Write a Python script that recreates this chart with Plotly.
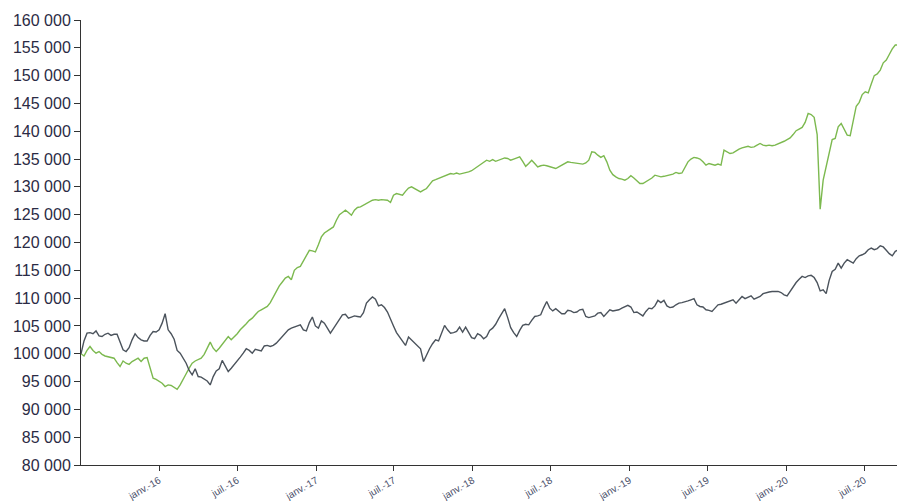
import pandas as pd
import plotly.graph_objects as go

# Weekly observation dates (Fridays)
start_date = "2015-07-03"
n_points = 273

# Green series (thousands)
green_k = [
    100.0, 99.6, 100.6, 101.3, 100.6, 100.1, 100.4, 99.9, 99.6, 99.5,
    99.4, 99.2, 98.4, 97.7, 98.7, 98.3, 98.1, 98.6, 98.9, 99.2,
    98.6, 99.2, 99.3, 97.3, 95.6, 95.4, 95.0, 94.7, 94.1, 94.4,
    94.3, 94.0, 93.6, 94.4, 95.3, 96.4, 97.4, 98.3, 98.7, 98.9,
    99.2, 99.9, 101.0, 102.1, 101.0, 100.4, 101.0, 101.7, 102.3, 103.1,
    102.5, 103.0, 103.6, 104.3, 104.8, 105.4, 106.0, 106.4, 107.0, 107.6,
    107.9, 108.2, 108.5, 109.2, 110.3, 111.4, 112.2, 112.9, 113.6, 113.9,
    113.3, 115.0, 115.5, 115.7, 116.7, 117.8, 118.6, 118.5, 118.3, 119.6,
    121.0, 121.7, 122.1, 122.5, 122.8, 124.0, 125.0, 125.4, 125.8, 125.4,
    124.9, 125.8, 126.3, 126.4, 126.7, 127.0, 127.3, 127.6, 127.7, 127.6,
    127.7, 127.6, 127.6, 127.2, 128.5, 128.8, 128.6, 128.5, 129.2, 129.8,
    130.0, 129.7, 129.3, 129.1, 129.4, 129.7, 130.4, 131.1, 131.3, 131.5,
    131.7, 132.0, 132.2, 132.4, 132.3, 132.5, 132.3, 132.4, 132.5, 132.7,
    132.9, 133.3, 133.6, 134.0, 134.4, 134.8, 134.6, 134.9, 134.6, 134.8,
    134.9, 135.2, 135.1, 134.8, 135.0, 135.2, 135.4, 134.6, 133.7, 134.2,
    134.8, 134.2, 133.6, 133.8, 133.9, 133.8, 133.6, 133.5, 133.3, 133.6,
    133.9, 134.2, 134.5, 134.4, 134.3, 134.2, 134.1, 134.1, 134.3, 134.8,
    136.3, 136.2, 135.7, 135.3, 135.6, 134.5, 133.0, 132.2, 131.8, 131.5,
    131.4, 131.2, 131.5, 132.0, 131.6, 131.0, 130.6, 130.6, 130.9, 131.2,
    131.6, 132.1, 131.9, 131.8, 131.9, 132.0, 132.1, 132.3, 132.6, 132.4,
    132.5, 133.5, 134.5, 135.0, 135.3, 135.2, 135.0, 134.5, 133.9, 134.2,
    134.0, 133.9, 134.1, 133.9, 136.6, 136.3, 136.0, 136.1, 136.5, 136.8,
    137.0, 137.2, 137.3, 137.1, 137.2, 137.5, 137.8, 137.5, 137.4, 137.5,
    137.4, 137.5, 137.7, 137.9, 138.2, 138.5, 138.8, 139.4, 140.1, 140.4,
    140.7, 141.6, 143.2, 143.0, 142.5, 139.4, 126.0, 131.2, 133.5, 135.8,
    138.5, 138.7, 140.8, 141.4, 140.2, 139.3, 139.2, 142.0, 144.5, 145.2,
    146.6, 147.1, 146.9, 148.5, 150.0, 150.3, 151.0, 152.3, 152.8, 153.8,
    154.8, 155.5, 155.5,
]

# Dark grey series (thousands)
grey_k = [
    100.0, 102.3, 103.7, 103.8, 103.6, 104.1, 103.2, 103.1, 103.5, 103.7,
    103.3, 103.5, 103.5, 102.0, 100.7, 100.4, 101.1, 102.5, 103.6, 102.9,
    102.5, 102.3, 102.3, 103.3, 104.0, 103.9, 104.3, 105.5, 107.2, 104.3,
    103.6, 102.6, 100.6, 100.1, 99.2, 98.3, 97.0, 96.2, 97.3, 95.9,
    95.8, 95.5, 95.1, 94.4, 95.9, 96.9, 97.3, 98.8, 97.8, 96.8,
    97.4, 98.0, 98.6, 99.4, 100.1, 100.9, 100.6, 100.1, 100.8, 100.7,
    100.5, 101.4, 101.5, 101.3, 101.5, 101.9, 102.5, 103.1, 103.9, 104.3,
    104.6, 104.8, 105.0, 105.2, 104.3, 104.1, 105.6, 106.6, 105.0, 104.6,
    105.9, 105.5, 104.6, 103.7, 104.5, 105.4, 106.2, 107.0, 107.1, 106.4,
    106.6, 106.8, 106.7, 106.6, 107.4, 109.1, 109.7, 110.2, 109.8, 108.6,
    108.8, 108.3, 107.5, 106.4, 105.0, 103.8, 103.0, 102.3, 101.5, 103.0,
    102.5, 101.9, 101.4, 100.9, 98.6, 99.8, 100.9, 101.8, 102.5, 102.3,
    103.8, 105.1, 104.3, 103.7, 103.8, 104.0, 104.8, 103.9, 104.8, 103.8,
    102.9, 102.7, 103.6, 103.3, 102.7, 103.1, 104.2, 104.6, 105.3, 106.3,
    107.2, 108.1, 106.5, 104.7, 103.8, 103.1, 104.2, 105.1, 105.3, 105.2,
    106.0, 106.7, 106.8, 107.0, 108.3, 109.4, 108.2, 107.7, 108.1, 107.7,
    107.2, 107.2, 107.8, 107.7, 107.4, 107.5, 107.9, 108.0, 106.7, 106.5,
    106.6, 106.8, 107.3, 107.4, 106.7, 107.3, 107.9, 107.7, 107.8, 107.9,
    108.2, 108.5, 108.7, 108.4, 107.4, 107.5, 107.2, 106.8, 107.6, 108.2,
    108.1, 108.6, 109.6, 109.2, 109.6, 108.6, 108.3, 108.4, 108.8, 109.1,
    109.2, 109.3, 109.5, 109.7, 109.9, 108.8, 108.5, 108.4, 107.9, 107.8,
    107.6, 108.2, 108.8, 108.9, 109.1, 109.2, 109.5, 109.7, 109.1, 109.8,
    110.3, 109.9, 110.2, 110.4, 109.8, 110.0, 110.3, 110.8, 111.0, 111.1,
    111.2, 111.2, 111.2, 111.0, 110.6, 110.4, 111.2, 112.1, 112.8, 113.4,
    113.9, 113.7, 114.0, 114.1, 113.7, 112.8, 111.3, 111.5, 110.8, 113.2,
    114.8, 115.2, 116.3, 115.4, 116.3, 116.9, 116.6, 116.3, 117.1, 117.6,
    117.8, 118.1, 118.7, 119.0, 118.7, 118.9, 119.4, 119.2, 118.6, 118.0,
    117.6, 118.4, 118.7,
]

tick_dates = [
    "2016-01-01", "2016-07-01", "2017-01-01", "2017-07-01", "2018-01-01",
    "2018-07-01", "2019-01-01", "2019-07-01", "2020-01-01", "2020-07-01",
]
tick_labels = [
    "janv.-16", "juil.-16", "janv.-17", "juil.-17", "janv.-18",
    "juil.-18", "janv.-19", "juil.-19", "janv.-20", "juil.-20",
]

dates = pd.date_range(start_date, periods=n_points, freq="7D")
green = [v * 1000 for v in green_k]
grey = [v * 1000 for v in grey_k]

fig = go.Figure()
fig.add_trace(go.Scatter(x=dates, y=green, mode="lines",
                         line=dict(color="#7cb94f", width=1.4),
                         hoverinfo="skip"))
fig.add_trace(go.Scatter(x=dates, y=grey, mode="lines",
                         line=dict(color="#4b535c", width=1.4),
                         hoverinfo="skip"))

fig.update_layout(
    width=898, height=501,
    margin=dict(l=81, r=1, t=20, b=36, pad=0),
    paper_bgcolor="white", plot_bgcolor="white",
    showlegend=False,
    separators=", ",
    font=dict(family="Liberation Sans, Arial, sans-serif"),
)
fig.update_xaxes(
    range=["2015-07-03", "2020-09-15"],
    tickvals=tick_dates, ticktext=tick_labels, tickangle=-30,
    showgrid=False, zeroline=False,
    showline=True, linecolor="#333", linewidth=1,
    ticks="outside", ticklen=5, tickcolor="#333", tickwidth=1,
    tickfont=dict(size=10, color="#4a4f6a"),
    automargin=False,
)
fig.update_yaxes(
    range=[80000, 160000], dtick=5000, tick0=80000,
    tickformat=",.0f",
    showgrid=False, zeroline=False,
    showline=True, linecolor="#333", linewidth=1,
    ticks="outside", ticklen=6, tickcolor="#333", tickwidth=1,
    tickfont=dict(size=16, color="#2b2b45"),
    automargin=False,
)

# Remove the default page margin / scrollbars so the figure fills the window
fig.write_html(
    "out.html",
    config={"displayModeBar": False},
    post_script="document.body.style.margin='0';"
                "document.body.style.overflow='hidden';"
                "document.documentElement.style.overflow='hidden';",
)
